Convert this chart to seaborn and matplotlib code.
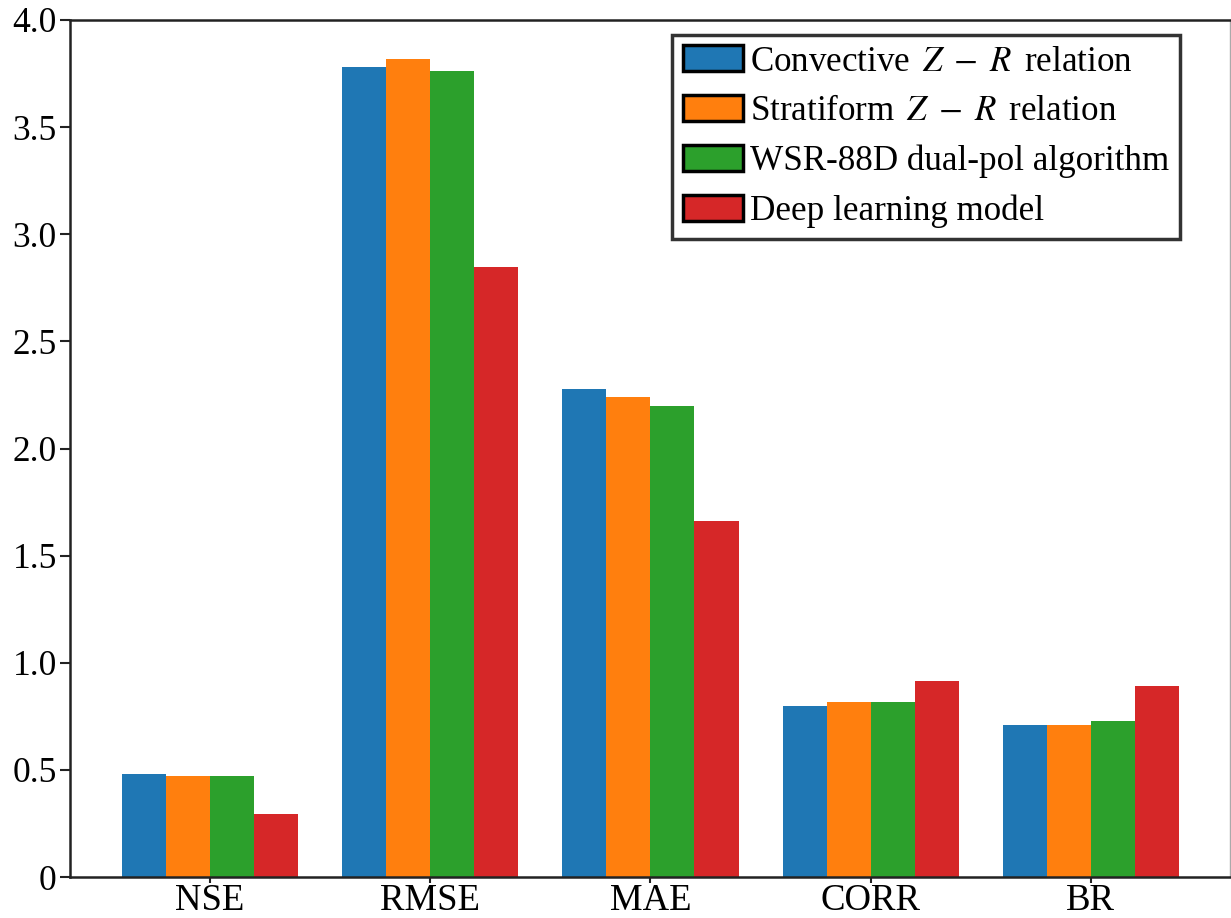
import matplotlib
matplotlib.use("Agg")
import matplotlib.pyplot as plt
import seaborn as sns
import pandas as pd
from matplotlib.ticker import FuncFormatter

metrics = ["NSE", "RMSE", "MAE", "CORR", "BR"]
methods = [r"Convective $\,Z\;-\;R\,$ relation", r"Stratiform $\,Z\;-\;R\,$ relation",
           "WSR-88D dual-pol algorithm", "Deep learning model"]
convective = [0.48, 3.78, 2.28, 0.80, 0.71]
stratiform = [0.47, 3.82, 2.24, 0.815, 0.71]
wsr88d = [0.47, 3.76, 2.20, 0.815, 0.73]
deep = [0.295, 2.845, 1.66, 0.913, 0.89]
colors = ["#1f77b4", "#ff7f0e", "#2ca02c", "#d62728"]

rows = []
for name, vals in zip(methods, [convective, stratiform, wsr88d, deep]):
    for m, v in zip(metrics, vals):
        rows.append({"Metric": m, "Method": name, "Value": v})
df = pd.DataFrame(rows)

sns.set_style("ticks")
plt.rcParams["font.family"] = ["Liberation Serif", "DejaVu Serif"]
plt.rcParams["mathtext.fontset"] = "stix"
plt.rcParams["text.color"] = "black"
plt.rcParams["xtick.color"] = "black"
plt.rcParams["ytick.color"] = "black"

fig = plt.figure(figsize=(12.31, 9.18), dpi=100)
ax = fig.add_axes([70/1231, 1-877/918, 1160/1231, 857/918])
sns.barplot(data=df, x="Metric", y="Value", hue="Method", order=metrics,
            hue_order=methods, palette=colors, width=0.8, saturation=1,
            linewidth=0, ax=ax)

ax.set_xlim(-0.636, 4.632)
ax.set_ylim(0, 4.0)
ax.set_yticks([0, 0.5, 1.0, 1.5, 2.0, 2.5, 3.0, 3.5, 4.0])
ax.yaxis.set_major_formatter(FuncFormatter(lambda v, p: "0" if v == 0 else f"{v:.1f}"))
ax.set_xlabel("")
ax.set_ylabel("")
ax.tick_params(axis="y", labelsize=25.5, length=7.5, width=1.5, color="#222222",
               labelcolor="black", pad=2)
ax.tick_params(axis="x", labelsize=26.5, length=4, width=1.5, color="#222222",
               labelcolor="black", pad=1)
for s in ["left", "bottom", "top"]:
    ax.spines[s].set_visible(True)
    ax.spines[s].set_color("#222222")
    ax.spines[s].set_linewidth(1.8)
ax.spines["right"].set_visible(True)
ax.spines["right"].set_color("#aaaaaa")
ax.spines["right"].set_linewidth(1.0)

leg = ax.legend(loc="upper right", bbox_to_anchor=(0.957, 0.9825), fontsize=25.2,
                frameon=True, fancybox=False, edgecolor="black",
                handlelength=1.72, handleheight=0.76, handletextpad=0.22,
                labelspacing=0.47, borderpad=0.3, borderaxespad=0)
leg.get_frame().set_linewidth(2.5)
for t in leg.get_texts():
    t.set_color("black")
for h in leg.legend_handles:
    h.set_edgecolor("black")
    h.set_linewidth(2.5)

fig.savefig("out.png", dpi=100)
